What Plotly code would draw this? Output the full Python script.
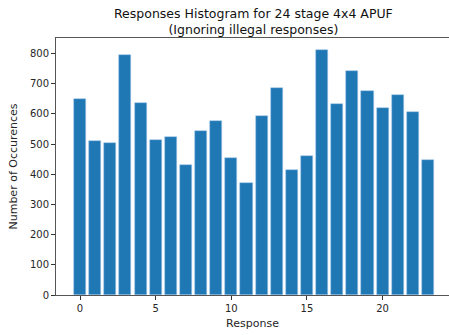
import plotly.graph_objects as go

responses = list(range(24))
counts = [650, 510, 502, 795, 635, 514, 522, 431, 542, 577, 453, 370,
          593, 686, 413, 459, 811, 631, 741, 674, 620, 662, 605, 448]
x_ticks = [0, 5, 10, 15, 20]
y_ticks = [0, 100, 200, 300, 400, 500, 600, 700, 800]

fig = go.Figure()
fig.add_trace(go.Bar(
    x=responses, y=counts, width=0.8,
    marker=dict(color="#1f77b4", line=dict(color="rgba(160,200,235,0.9)", width=0.6)),
))

font = dict(family="DejaVu Sans", size=10, color="#262626")
fig.update_layout(
    width=449, height=335,
    margin=dict(l=56, r=0, t=38, b=40),
    paper_bgcolor="white", plot_bgcolor="white",
    showlegend=False,
    font=font,
    bargap=0,
    xaxis=dict(range=[-1.59, 24.39], tickvals=x_ticks, ticks="outside", ticklen=4,
               tickcolor="#333", showgrid=False, zeroline=False, showline=True,
               linecolor="#555", linewidth=1, mirror=True, automargin=False,
               title=dict(text="Response", font=dict(size=11), standoff=6)),
    yaxis=dict(range=[0, 851], tickvals=y_ticks, ticks="outside", ticklen=4,
               tickcolor="#333", showgrid=False, zeroline=False, showline=True,
               linecolor="#555", linewidth=1, automargin=False,
               title=dict(text="Number of Occurences", font=dict(size=11), standoff=10)),
    annotations=[dict(text="Responses Histogram for 24 stage 4x4 APUF<br>(Ignoring illegal responses)",
                      x=(254 - 56) / 393, y=1 + 34 / 257, xref="paper", yref="paper",
                      xanchor="center", yanchor="top", showarrow=False,
                      font=dict(family="DejaVu Sans", size=12.5, color="#111"))],
)
fig.write_html("out.html", config={"displayModeBar": False},
               post_script="document.body.style.margin='0';document.body.style.overflow='hidden';")
